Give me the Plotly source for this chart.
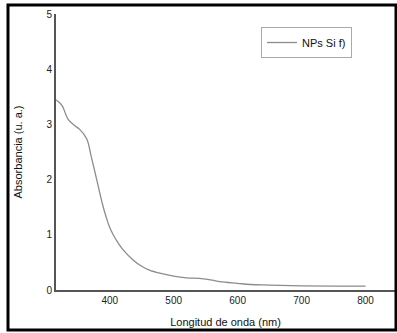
import plotly.graph_objects as go

wavelength = [316, 320, 326, 335, 345, 353, 364, 371, 376, 382, 389, 395, 400, 405, 410, 420, 436, 450, 462, 480, 500, 520, 540, 560, 572, 600, 620, 650, 700, 750, 800]
absorbance = [3.44, 3.41, 3.33, 3.09, 2.98, 2.91, 2.74, 2.42, 2.18, 1.88, 1.54, 1.30, 1.13, 1.01, 0.91, 0.74, 0.55, 0.43, 0.36, 0.30, 0.25, 0.22, 0.21, 0.18, 0.15, 0.12, 0.10, 0.09, 0.075, 0.07, 0.07]
x_ticks = [400, 500, 600, 700, 800]
y_ticks = [0, 1, 2, 3, 4, 5]

fig = go.Figure()
fig.add_trace(go.Scatter(
    x=wavelength, y=absorbance, mode="lines", name="NPs Si f)",
    line=dict(color="#8c8c8c", width=1.3, shape="spline", smoothing=1.0),
))

W, H = 397, 333
L, R, T, B = 56, 2, 14, 43
pw = W - L - R
ph = H - T - B

def px2paper_x(px):
    return (px - L) / pw

def px2paper_y(py):
    return (H - B - py) / ph

fig.update_layout(
    width=W, height=H,
    margin=dict(l=L, r=R, t=T, b=B, pad=0),
    paper_bgcolor="white", plot_bgcolor="white",
    font=dict(family="Liberation Sans, Arial, sans-serif", color="#222"),
    showlegend=True,
    legend=dict(
        x=px2paper_x(261), y=px2paper_y(27), xanchor="left", yanchor="top",
        bordercolor="#aaaaaa", borderwidth=1, bgcolor="white",
        font=dict(size=11, color="#111"),
        itemwidth=30, tracegroupgap=0,
    ),
    xaxis=dict(
        range=[316, 846], tickvals=x_ticks, ticktext=[str(v) for v in x_ticks],
        showgrid=False, zeroline=False, showline=True, linecolor="#555555", linewidth=2,
        ticks="", tickfont=dict(size=10, color="#222"),
        title=dict(text="Longitud de onda (nm)", font=dict(size=11, color="#111"), standoff=13),
    ),
    yaxis=dict(
        range=[0, 5], tickvals=y_ticks, ticktext=[str(v) for v in y_ticks],
        showgrid=False, zeroline=False, showline=True, linecolor="#555555", linewidth=2,
        ticks="", ticklen=0, tickfont=dict(size=10, color="#222"),
        title=dict(text="Absorbancia (u. a.)", font=dict(size=11, color="#111"), standoff=22),
    ),
)

fig.add_shape(
    type="rect", xref="paper", yref="paper",
    x0=px2paper_x(8), x1=px2paper_x(396), y0=px2paper_y(330), y1=px2paper_y(5),
    line=dict(color="black", width=3), fillcolor="rgba(0,0,0,0)", layer="above",
)

fig.write_html("out.html")
